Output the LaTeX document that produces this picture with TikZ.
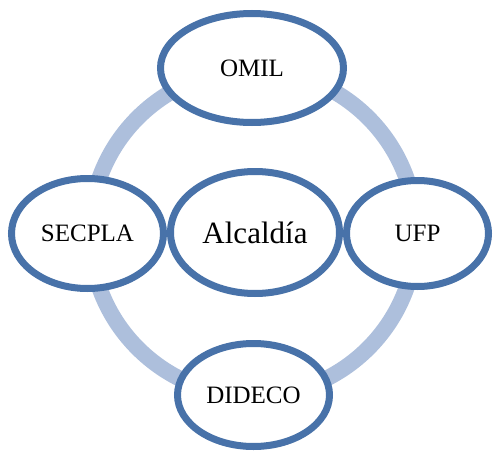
\documentclass[tikz,border=0pt]{standalone}
\usepackage{fontspec}
\setmainfont{Liberation Serif}
\usetikzlibrary{shapes.geometric,shadows}
\definecolor{ringblue}{HTML}{ADBFDC}
\definecolor{edgeblue}{HTML}{4872A9}
\tikzset{
  unit/.style={ellipse, draw=edgeblue, fill=white, line width=7pt, inner sep=0pt,
    font=\fontsize{25}{28}\selectfont,
    drop shadow={shadow xshift=1pt, shadow yshift=-3pt, opacity=0.18, fill=black}},
  ringstyle/.style={circle, draw=ringblue, line width=16pt, inner sep=0pt}
}
\begin{document}
\begin{tikzpicture}[x=1pt,y=-1pt]
\useasboundingbox (0,0) rectangle (493,455);
\node[ringstyle, minimum size=326pt] (ring) at (253,233) {};
\node[unit, minimum width=183pt, minimum height=109pt] (omil) at (252,68) {OMIL};
\node[unit, minimum width=152pt, minimum height=110pt] (secpla) at (87.5,233.5) {SECPLA};
\node[unit, minimum width=142pt, minimum height=106pt] (ufp) at (417.5,233.5) {UFP};
\node[unit, minimum width=152pt, minimum height=103pt] (dideco) at (253.5,395) {DIDECO};
\node[unit, minimum width=169pt, minimum height=122pt, font=\fontsize{31}{34}\selectfont] (alc) at (255,232.5) {Alcaldía};
\end{tikzpicture}
\end{document}
